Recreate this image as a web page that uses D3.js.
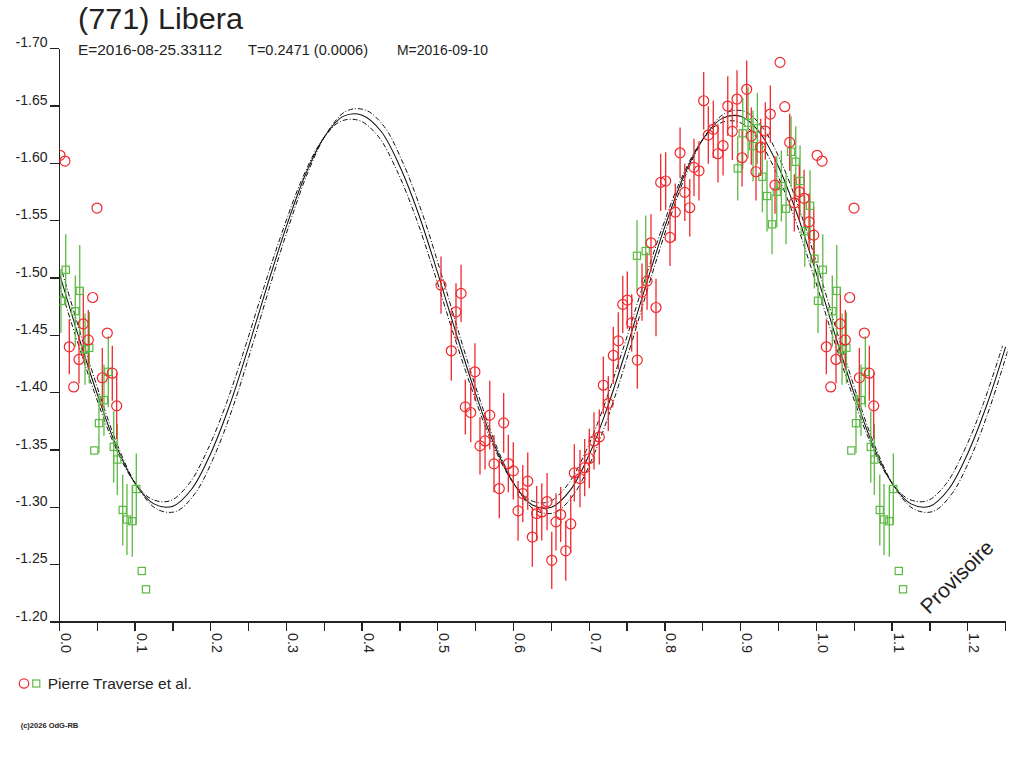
<!DOCTYPE html>
<html><head><meta charset="utf-8">
<script src="https://cdn.jsdelivr.net/npm/d3@7"></script>
<style>
body{margin:0;background:#fff}
svg{display:block}
text{font-family:"Liberation Sans",Arial,Helvetica,sans-serif;fill:#222}
</style>
</head><body>
<svg id="chart" width="1024" height="768"></svg>
<script>
// ---------- texts ----------
const titleText = "(771) Libera";
const subtitleParts = ["E=2016-08-25.33112", "T=0.2471 (0.0006)", "M=2016-09-10"];
const legendLabel = "Pierre Traverse et al.";
const footerText = "(c)2026 OdG-RB";
const watermarkText = "Provisoire";

// ---------- axes ----------
const yTicks = [-1.70,-1.65,-1.60,-1.55,-1.50,-1.45,-1.40,-1.35,-1.30,-1.25,-1.20];
const yTickLabels = ["-1.70","-1.65","-1.60","-1.55","-1.50","-1.45","-1.40","-1.35","-1.30","-1.25","-1.20"];
const xTicks = [0,0.05,0.1,0.15,0.2,0.25,0.3,0.35,0.4,0.45,0.5,0.55,0.6,0.65,0.7,0.75,0.8,0.85,0.9,0.95,1.0,1.05,1.1,1.15,1.2,1.25];
const xLabelValues = [0,0.1,0.2,0.3,0.4,0.5,0.6,0.7,0.8,0.9,1.0,1.1,1.2];
const xLabelTexts = ["0.0","0.1","0.2","0.3","0.4","0.5","0.6","0.7","0.8","0.9","1.0","1.1","1.2"];

// ---------- observer: red circles ----------
const redPhase = [0.001,0.0075,0.0498,0.0441,0.0132,0.0317,0.026,0.019,0.0383,0.0634,0.0568,0.070,0.0758,
  0.5042,0.5307,0.524,0.5178,0.549,0.5363,0.5435,0.5686,0.587,0.5624,0.5557,0.5742,0.5931,0.5997,0.5812,0.6188,0.6122,0.606,0.6306,0.6373,0.6443,0.6248,0.6505,0.6561,0.6623,0.669,0.6756,0.6803,0.6878,0.694,0.7001,0.7063,0.7133,
  0.7186,0.7252,0.7318,0.7384,0.7561,0.7443,0.7503,0.7635,0.7697,0.7764,0.7816,0.7882,0.8067,0.8137,0.7944,0.801,0.82,0.8262,0.8328,0.8384,0.845,
  0.8512,0.8573,0.8639,0.8701,0.8768,0.883,0.889,0.8952,0.9019,0.908,0.9141,0.9203,0.9265,0.9326,0.9392,0.9454,0.952,0.9583,0.9648,0.9709,0.9775,0.9838,0.9904,0.9966];
const redMag = [-1.607,-1.602,-1.561,-1.483,-1.440,-1.460,-1.429,-1.405,-1.446,-1.452,-1.413,-1.417,-1.3885,
  -1.4938,-1.4866,-1.4705,-1.4365,-1.4182,-1.3876,-1.3827,-1.3804,-1.3737,-1.3579,-1.3536,-1.3379,-1.3382,-1.3318,-1.3164,-1.3228,-1.312,-1.2969,-1.2946,-1.296,-1.305,-1.2741,-1.2538,-1.2873,-1.2937,-1.262,-1.2855,-1.330,-1.3251,-1.3346,-1.3426,-1.3579,-1.3614,
  -1.4065,-1.3906,-1.4325,-1.4452,-1.4609,-1.477,-1.4807,-1.4284,-1.4877,-1.4973,-1.5307,-1.4743,-1.5354,-1.5575,-1.5834,-1.5846,-1.6092,-1.5747,-1.5613,-1.5965,-1.5935,
  -1.6546,-1.6247,-1.6297,-1.6084,-1.6154,-1.65,-1.6279,-1.6561,-1.6049,-1.6646,-1.6238,-1.5927,-1.614,-1.6282,-1.643,-1.5811,-1.6881,-1.6494,-1.6183,-1.5656,-1.5752,-1.5695,-1.549,-1.5374];
const redErr = [0,0,0,0,0.024,0.031,0.021,0,0.026,0,0.026,0.024,0.029,
  0.025,0.025,0.025,0.026,0.025,0.024,0.026,0.030,0.026,0.025,0.025,0.025,0.025,0.025,0.026,0.025,0.025,0.026,0.024,0.025,0.025,0.026,0.025,0.025,0.024,0.026,0.025,0.025,0.025,0.025,0.026,0.025,0.024,
  0.025,0.024,0.025,0.025,0.025,0.025,0.025,0.025,0.025,0.025,0.025,0.025,0.025,0.025,0.025,0.025,0.022,0.025,0.025,0.025,0.026,
  0.025,0.025,0.025,0.025,0.026,0.026,0.025,0.025,0.025,0.025,0.025,0.025,0.025,0.025,0.025,0.025,0,0,0.025,0.025,0.025,0.025,0.025,0.025];

// ---------- observer: green squares ----------
const greenPhase = [0.0085,0.0022,0.027,0.0211,0.034,0.0396,0.0647,0.059,0.0524,0.0462,0.0719,0.0766,0.0838,0.0894,0.0964,0.1017,0.1089,0.1145,
  0.7631,0.7746,
  0.8962,0.9028,0.9098,0.9164,0.9221,0.9287,0.9349,0.9415,0.9477,0.9538,0.96,0.9666,0.9728,0.9785,0.9847,0.9917,0.9974];
const greenMag = [-1.5072,-1.4801,-1.4888,-1.4711,-1.438,-1.4391,-1.4182,-1.3935,-1.3734,-1.3496,-1.3527,-1.3417,-1.2977,-1.2894,-1.2879,-1.316,-1.2445,-1.2285,
  -1.5194,-1.5235,
  -1.5956,-1.6262,-1.6354,-1.6151,-1.6305,-1.5883,-1.5715,-1.5468,-1.5752,-1.5802,-1.5604,-1.6101,-1.6014,-1.5846,-1.5409,-1.563,-1.5168];
const greenErr = [0.031,0.028,0.040,0.031,0.031,0.031,0.031,0.031,0.026,0,0.031,0.031,0.031,0.031,0.031,0.031,0,0,
  0.031,0.031,
  0.028,0.031,0.031,0.031,0.031,0.031,0.031,0.026,0.031,0.031,0.031,0.031,0.031,0.031,0.031,0.031,0.026];

// ---------- fitted light curve (read at 0.025 phase steps) ----------
const curvePhase = [0,0.025,0.05,0.075,0.1,0.125,0.15,0.175,0.2,0.225,0.25,0.275,0.3,0.325,0.35,0.375,0.4,0.425,0.45,0.475,
  0.5,0.525,0.55,0.575,0.6,0.625,0.65,0.675,0.7,0.725,0.75,0.775,0.8,0.825,0.85,0.875,0.9,0.925,0.95,0.975,
  1.0,1.025,1.05,1.075,1.1,1.125,1.15,1.175,1.2,1.225,1.25];
const curveMag = [-1.504,-1.450,-1.399,-1.354,-1.321,-1.303,-1.301,-1.316,-1.347,-1.389,-1.440,-1.494,-1.545,-1.590,-1.623,-1.641,-1.642,-1.628,-1.597,-1.555,
  -1.504,-1.450,-1.399,-1.354,-1.321,-1.302,-1.300,-1.315,-1.346,-1.389,-1.440,-1.494,-1.545,-1.589,-1.621,-1.639,-1.641,-1.627,-1.597,-1.555,
  -1.504,-1.450,-1.399,-1.354,-1.321,-1.303,-1.301,-1.316,-1.347,-1.389,-1.440];
const curveMean = -1.472;      // mean level of the fit
const envelopeAmp = 0.027;     // relative amplitude uncertainty of dash-dot envelopes
const envelopePhase = 0.004;   // phase uncertainty of dash-dot envelopes

// ---------- colours ----------
const redColor = "#f0282d";
const greenColor = "#5cb944";
const inkColor = "#222";

// ---------- layout ----------
const svg = d3.select("#chart");
const x = d3.scaleLinear().domain([0, 1.25]).range([59.3, 1005.6]);
const y = d3.scaleLinear().domain([-1.70, -1.20]).range([48.7, 622]);

svg.append("defs").append("clipPath").attr("id","plotclip")
  .append("rect").attr("x", x(0)).attr("y", 0).attr("width", x(1.25)-x(0)+2).attr("height", y(-1.20));

// title and subtitle
svg.append("text").attr("x", 78).attr("y", 28.5).attr("font-size", 29)
  .attr("textLength", 165).attr("lengthAdjust","spacingAndGlyphs").text(titleText);
const subX = [78, 248, 397], subW = [144, 120, 91];
svg.selectAll(".sub").data(subtitleParts).join("text").attr("class","sub")
  .attr("x", (d,i)=>subX[i]).attr("y", 54.5).attr("font-size", 14)
  .attr("textLength", (d,i)=>subW[i]).attr("lengthAdjust","spacingAndGlyphs").text(d=>d);

// axes
const axisG = svg.append("g").attr("stroke", inkColor).attr("stroke-width", 1.3).attr("shape-rendering","crispEdges");
axisG.append("line").attr("x1", x(0)).attr("x2", x(0)).attr("y1", y(-1.70)).attr("y2", y(-1.20));
axisG.append("line").attr("x1", x(0)).attr("x2", x(1.25)).attr("y1", y(-1.20)).attr("y2", y(-1.20));
axisG.selectAll(".yt").data(yTicks).join("line").attr("class","yt")
  .attr("x1", x(0)-9.5).attr("x2", x(0)).attr("y1", d=>y(d)).attr("y2", d=>y(d));
axisG.selectAll(".xt").data(xTicks).join("line").attr("class","xt")
  .attr("x1", d=>x(d)).attr("x2", d=>x(d)).attr("y1", y(-1.20)).attr("y2", y(-1.20)+8.5);

svg.selectAll(".yl").data(yTicks).join("text").attr("class","yl")
  .attr("x", 15.5).attr("y", d=>y(d)-1.5).attr("font-size", 14)
  .attr("textLength", 32).attr("lengthAdjust","spacingAndGlyphs")
  .text((d,i)=>yTickLabels[i]);
svg.selectAll(".xl").data(xLabelValues).join("text").attr("class","xl")
  .attr("transform", d=>`translate(${x(d)+1.5},${y(-1.20)+11}) rotate(90)`)
  .attr("font-size", 14).attr("textLength", 20).attr("lengthAdjust","spacingAndGlyphs")
  .text((d,i)=>xLabelTexts[i]);

// light curve + envelopes
const plot = svg.append("g").attr("clip-path","url(#plotclip)");
const pts = curvePhase.map((p,i)=>[p, curveMag[i]]);
const lineGen = (ampF, shift) => d3.line()
  .x(d=>x(d[0]+shift)).y(d=>y(curveMean + (d[1]-curveMean)*ampF))
  .curve(d3.curveCatmullRom.alpha(0.5));
plot.append("path").attr("d", lineGen(1+envelopeAmp, envelopePhase)(pts))
  .attr("fill","none").attr("stroke","#111").attr("stroke-width",1).attr("stroke-dasharray","5,2,1,2");
plot.append("path").attr("d", lineGen(1-envelopeAmp, -envelopePhase)(pts))
  .attr("fill","none").attr("stroke","#111").attr("stroke-width",1).attr("stroke-dasharray","5,2,1,2");
plot.append("path").attr("d", lineGen(1, 0)(pts))
  .attr("fill","none").attr("stroke","#111").attr("stroke-width",1.05);

// data (each phase also repeated one cycle later inside the window)
function expand(ph, mg, er){
  const out = [];
  ph.forEach((p,i)=>{
    [p, p+1].forEach(q=>{ if (q>=0 && q<=1.25) out.push({p:q, m:mg[i], e:er[i]}); });
  });
  return out;
}
const redData = expand(redPhase, redMag, redErr);
const greenData = expand(greenPhase, greenMag, greenErr);

const bars = plot.append("g").attr("stroke-width",1.3);
bars.selectAll(".gb").data(greenData.filter(d=>d.e>0)).join("line").attr("class","gb")
  .attr("stroke", greenColor)
  .attr("x1", d=>x(d.p)).attr("x2", d=>x(d.p)).attr("y1", d=>y(d.m-d.e)).attr("y2", d=>y(d.m+d.e));
bars.selectAll(".rb").data(redData.filter(d=>d.e>0)).join("line").attr("class","rb")
  .attr("stroke", redColor)
  .attr("x1", d=>x(d.p)).attr("x2", d=>x(d.p)).attr("y1", d=>y(d.m-d.e)).attr("y2", d=>y(d.m+d.e));

plot.selectAll(".gs").data(greenData).join("rect").attr("class","gs")
  .attr("x", d=>x(d.p)-3.6).attr("y", d=>y(d.m)-3.6).attr("width", 7.2).attr("height", 7.2)
  .attr("fill","none").attr("stroke", greenColor).attr("stroke-width",1.2);
plot.selectAll(".rc").data(redData).join("circle").attr("class","rc")
  .attr("cx", d=>x(d.p)).attr("cy", d=>y(d.m)).attr("r", 5)
  .attr("fill","none").attr("stroke", redColor).attr("stroke-width",1.2);

// watermark
svg.append("text").attr("transform","translate(958,578) rotate(-45)")
  .attr("text-anchor","middle").attr("dominant-baseline","middle")
  .attr("font-size", 21).text(watermarkText);

// legend
svg.append("circle").attr("cx", 24).attr("cy", 683.5).attr("r", 4.7)
  .attr("fill","none").attr("stroke", redColor).attr("stroke-width",1.2);
svg.append("rect").attr("x", 32.8).attr("y", 680).attr("width", 7).attr("height", 7)
  .attr("fill","none").attr("stroke", greenColor).attr("stroke-width",1.2);
svg.append("text").attr("x", 47.7).attr("y", 688.5).attr("font-size", 15)
  .attr("textLength", 144).attr("lengthAdjust","spacingAndGlyphs").text(legendLabel);

// footer
svg.append("text").attr("x", 20.7).attr("y", 728).attr("font-size", 8).attr("font-weight","bold")
  .attr("textLength", 57.6).attr("lengthAdjust","spacingAndGlyphs").text(footerText);
</script>
</body></html>
